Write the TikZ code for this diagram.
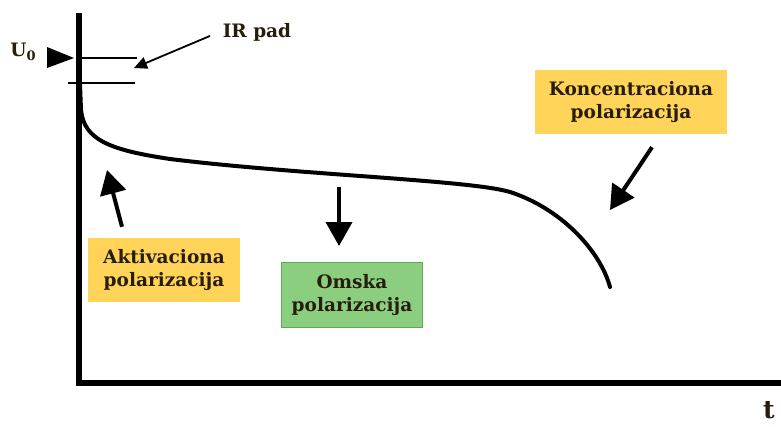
\documentclass[tikz,border=0pt]{standalone}
\usepackage{fontspec}
\setmainfont{DejaVu Serif}
\usetikzlibrary{arrows.meta}
\definecolor{boxyellow}{RGB}{255,212,88}
\definecolor{boxgreen}{RGB}{140,206,128}
\definecolor{greenline}{RGB}{96,168,88}
\definecolor{inkdark}{RGB}{38,30,10}
\begin{document}
\begin{tikzpicture}
  [x=1pt,y=-1pt,
   every node/.style={font=\fontsize{18.5}{23}\selectfont\bfseries,text=inkdark,align=center},
   yellowbox/.style={fill=boxyellow,minimum height=64pt},
   greenbox/.style={fill=boxgreen,draw=greenline,line width=1.2pt,minimum height=65pt},
   bigarrow/.style={line width=4pt,-{Triangle[length=24pt,width=26pt]}}]
  \useasboundingbox (0,0) rectangle (781,426);

  % axes
  \coordinate (top) at (79,13);
  \coordinate (origin) at (79,383);
  \coordinate (right) at (781,383);
  \draw[line width=5.5pt] (top) -- (origin) -- (right);
  \node[font=\fontsize{25}{25}\selectfont\bfseries] (t) at (769,410) {t};

  % open circuit voltage and IR drop
  \node[inner sep=1pt] (u0) at (23,52) {U\raisebox{-4pt}{\fontsize{13}{13}\selectfont 0}};
  \coordinate (u0tip) at (74,58);
  \fill (u0tip) -- ++(-27,-11) -- ++(0,21) -- cycle;
  \draw[line width=1.5pt] (79,58) -- (137,58);
  \draw[line width=1.5pt] (68,83) -- (135,83);
  \node (ir) at (257,32) {IR pad};
  \coordinate (irtip) at (134,68);
  \draw[line width=1.8pt,-{Triangle[length=13pt,width=12pt]},shorten <=10pt] (ir.west) -- (irtip);

  % polarization curve
  \draw[line width=4pt,line cap=round] (80,84) -- (81,110)
    .. controls (84,140) and (110,150) .. (170,159)
    .. controls (300,175) and (470,180) .. (510,192)
    .. controls (560,208) and (600,250) .. (610,287);

  % labels
  \node[yellowbox,minimum width=152pt] (akt) at (164,270) {Aktivaciona\\polarizacija};
  \node[greenbox,minimum width=141pt] (omska) at (352,295) {Omska\\polarizacija};
  \node[yellowbox,minimum width=192pt] (konc) at (631,102) {Koncentraciona\\polarizacija};

  \coordinate (aktend) at (107,170);
  \coordinate (omskaend) at (339,246);
  \coordinate (koncend) at (610,210);
  \foreach \from/\anc/\dx/\dy in {akt/north/-42/11,omska/north/-13/75,konc/south/21/-13}
    \draw[bigarrow] ([xshift=\dx pt,yshift=\dy pt]\from.\anc) -- (\from end);
\end{tikzpicture}
\end{document}
